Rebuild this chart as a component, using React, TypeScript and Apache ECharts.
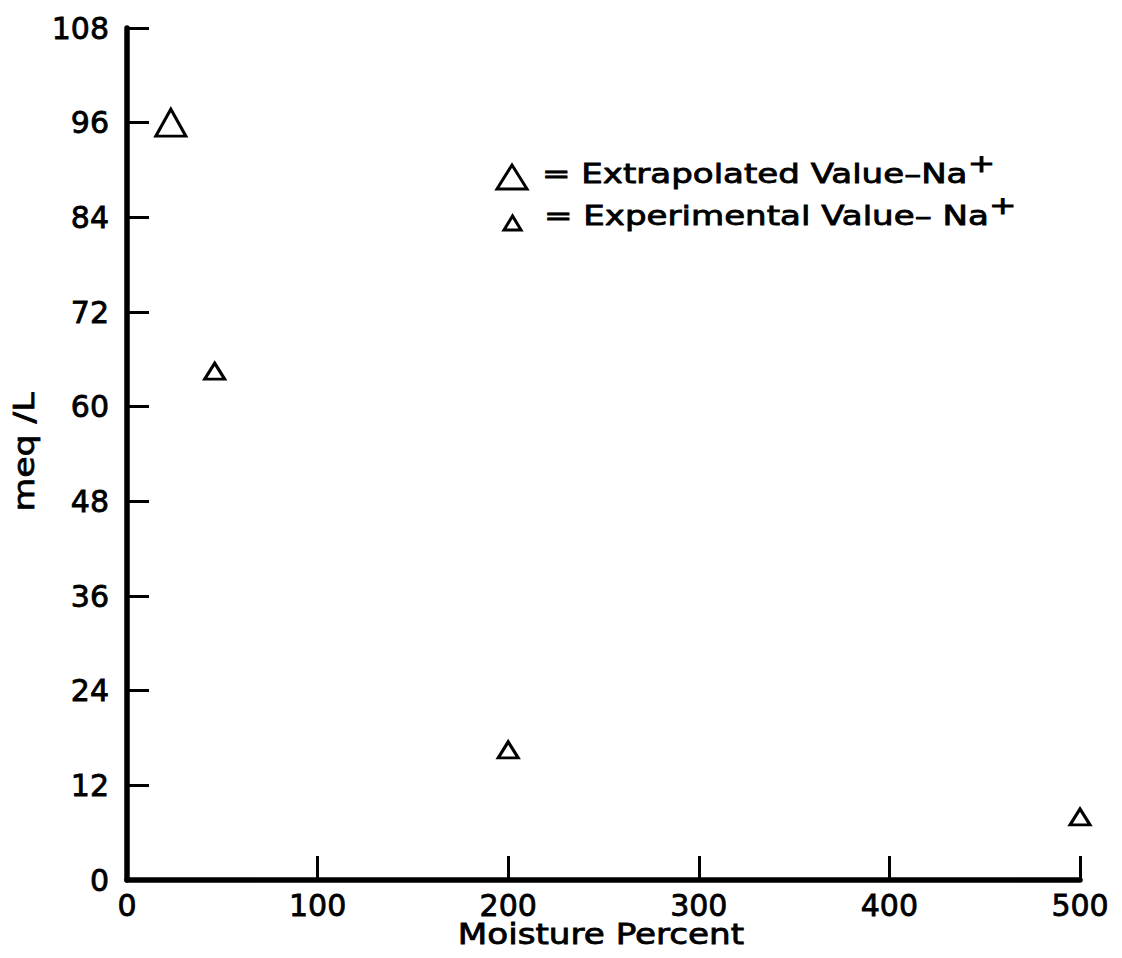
import React, { useEffect, useRef } from "react";
import * as echarts from "echarts";

const xTicks = [0, 100, 200, 300, 400, 500];
const yTicks = [0, 12, 24, 36, 48, 60, 72, 84, 96, 108];
const extrapolatedX = [23];
const extrapolatedY = [96];
const experimentalX = [46, 200, 500];
const experimentalY = [64.5, 16.5, 8];
const legendLabels = ["= Extrapolated Value\u2013Na", "= Experimental Value\u2013 Na"];
const xName = "Moisture Percent";
const yName = "meq /L";

const FONT = "DejaVu Sans";
const INK = "#000";

export default function App() {
  const ref = useRef<HTMLDivElement>(null);
  useEffect(() => {
    if (!ref.current) return;
    const chart = echarts.init(ref.current, undefined, { renderer: "svg" });
    const labelStyle = {
      color: INK,
      fontFamily: FONT,
      fontSize: 30,
      fontWeight: "normal" as const,
      textBorderColor: INK,
      textBorderWidth: 0.8,
    };
    const legendRich = {
      m: { fontFamily: FONT, fontSize: 26, fill: INK, stroke: INK, lineWidth: 0.8 },
      s: { fontFamily: FONT, fontSize: 25, fill: INK, stroke: INK, lineWidth: 0.8, padding: [0, 0, 22, 0] },
    };
    chart.setOption({
      animation: false,
      backgroundColor: "#fff",
      grid: { left: 127, right: 42, top: 28, bottom: 78, containLabel: false },
      xAxis: {
        type: "value",
        min: xTicks[0],
        max: xTicks[xTicks.length - 1],
        interval: 100,
        axisLine: { show: true, lineStyle: { color: INK, width: 5.5 } },
        axisTick: { show: true, inside: true, length: 24, lineStyle: { color: INK, width: 3 } },
        axisLabel: { ...labelStyle, margin: 10, formatter: (v: number) => (xTicks.includes(v) ? String(v) : "") },
        splitLine: { show: false },
      },
      yAxis: {
        type: "value",
        min: yTicks[0],
        max: yTicks[yTicks.length - 1],
        interval: 12,
        axisLine: { show: true, lineStyle: { color: INK, width: 5.5 } },
        axisTick: { show: true, inside: true, length: 22, lineStyle: { color: INK, width: 3 } },
        axisLabel: { ...labelStyle, margin: 18, formatter: (v: number) => (yTicks.includes(v) ? String(v) : "") },
        splitLine: { show: false },
      },
      series: [
        {
          name: "Extrapolated",
          type: "scatter",
          symbol: "triangle",
          symbolSize: [30, 27],
          itemStyle: { color: "#fff", borderColor: INK, borderWidth: 3, opacity: 1 },
          data: extrapolatedX.map((x, i) => [x, extrapolatedY[i]]),
        },
        {
          name: "Experimental",
          type: "scatter",
          symbol: "triangle",
          symbolSize: [20, 16],
          itemStyle: { color: "#fff", borderColor: INK, borderWidth: 3, opacity: 1 },
          data: experimentalX.map((x, i) => [x, experimentalY[i]]),
        },
      ],
      graphic: [
        {
          type: "text",
          x: 601,
          y: 934,
          scaleX: 1.22,
          style: {
            text: xName, fontFamily: FONT, fontSize: 28, fill: INK, stroke: INK, lineWidth: 0.8,
            align: "center", verticalAlign: "middle",
          },
        },
        {
          type: "text",
          x: 24,
          y: 452,
          rotation: Math.PI / 2,
          scaleX: 1.24,
          style: {
            text: yName, fontFamily: FONT, fontSize: 28, fill: INK, stroke: INK, lineWidth: 0.8,
            align: "center", verticalAlign: "middle",
          },
        },
        {
          type: "polygon",
          shape: { points: [[512, 165], [497, 189], [527, 189]] },
          style: { fill: "#fff", stroke: INK, lineWidth: 3 },
        },
        {
          type: "polygon",
          shape: { points: [[512.5, 216], [504, 230], [521, 230]] },
          style: { fill: "#fff", stroke: INK, lineWidth: 3 },
        },
        {
          type: "text",
          x: 542,
          y: 174,
          scaleX: 1.31,
          style: {
            text: "{m|" + legendLabels[0] + "}{s|+}",
            fontFamily: FONT,
            verticalAlign: "middle",
            rich: legendRich,
          },
        },
        {
          type: "text",
          x: 544,
          y: 216,
          scaleX: 1.31,
          style: {
            text: "{m|" + legendLabels[1] + "}{s|+}",
            fontFamily: FONT,
            verticalAlign: "middle",
            rich: legendRich,
          },
        },
      ],
    });
    return () => chart.dispose();
  }, []);
  return <div ref={ref} style={{ width: 1122, height: 958, margin: -8 }} />;
}
